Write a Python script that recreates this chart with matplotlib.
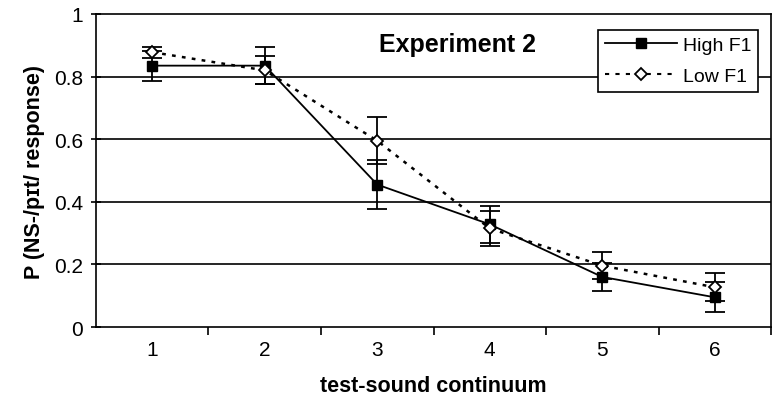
import matplotlib.pyplot as plt
from matplotlib.lines import Line2D

plt.rcParams['font.family'] = ['Liberation Sans', 'DejaVu Sans']

steps = [1, 2, 3, 4, 5, 6]
high_f1 = [0.835, 0.835, 0.455, 0.328, 0.160, 0.095]
high_err = [0.048, 0.060, 0.077, 0.060, 0.044, 0.048]
low_f1 = [0.878, 0.820, 0.595, 0.315, 0.196, 0.127]
low_err = [0.018, 0.045, 0.075, 0.055, 0.044, 0.045]

dots = (0, (1.5, 2.5))

fig = plt.figure(figsize=(7.76, 4.02), dpi=100)
ax = fig.add_axes([0.1237, 0.184, 0.8699, 0.7787])

# horizontal grid
for y in [0.2, 0.4, 0.6, 0.8]:
    ax.axhline(y, color='black', lw=1.2, zorder=0)

ax.errorbar(steps, high_f1, yerr=high_err, fmt='s', ls='-', color='black', lw=1.3,
            ms=7, mfc='black', mec='black', capsize=7, capthick=1.3,
            elinewidth=1.3, zorder=3)
ax.errorbar(steps, low_f1, yerr=low_err, fmt='D', ls=dots, color='black', lw=1.8,
            ms=6.5, mfc='white', mec='black', mew=1.3, capsize=7, capthick=1.3,
            elinewidth=1.3, zorder=4)

ax.set_xlim(0.5, 6.5)
ax.set_ylim(0, 1)
ax.set_xticks(steps)
ax.set_xticklabels([str(s) for s in steps], fontsize=15)
ax.set_xticks([1.5, 2.5, 3.5, 4.5, 5.5, 6.5], minor=True)
ax.tick_params(axis='x', which='major', length=0, pad=9)
ax.tick_params(axis='x', which='minor', length=6, width=1.2, direction='out')
ax.set_yticks([0, 0.2, 0.4, 0.6, 0.8, 1])
ax.set_yticklabels(['0', '0.2', '0.4', '0.6', '0.8', '1'], fontsize=15)
ax.tick_params(axis='y', length=7, width=1.2, direction='inout', pad=6)

for s in ax.spines.values():
    s.set_linewidth(1.2)

ax.set_xlabel('test-sound continuum', fontsize=15.5, fontweight='bold', labelpad=12)
ax.set_ylabel('P (NS-/p\u026at/ response)', fontsize=15.5, fontweight='bold', labelpad=6)

ax.text(0.536, 0.904, 'Experiment 2', transform=ax.transAxes, fontsize=18,
        fontweight='bold', ha='center', va='center')

handles = [
    Line2D([], [], color='black', lw=1.3, marker='s', ms=7),
    Line2D([], [], color='black', lw=1.5, ls=(0, (2, 3)), marker='D', ms=6,
           mfc='white', mew=1.3),
]
leg = ax.legend(handles, ['High F1', 'Low F1'], loc='upper right', fontsize=14,
                fancybox=False, edgecolor='black', framealpha=1, handlelength=3.7,
                borderpad=0.35, labelspacing=0.7, handletextpad=0.3,
                bbox_to_anchor=(0.9956, 0.981))
leg.get_frame().set_linewidth(1.2)

fig.savefig('out.png', dpi=100)
